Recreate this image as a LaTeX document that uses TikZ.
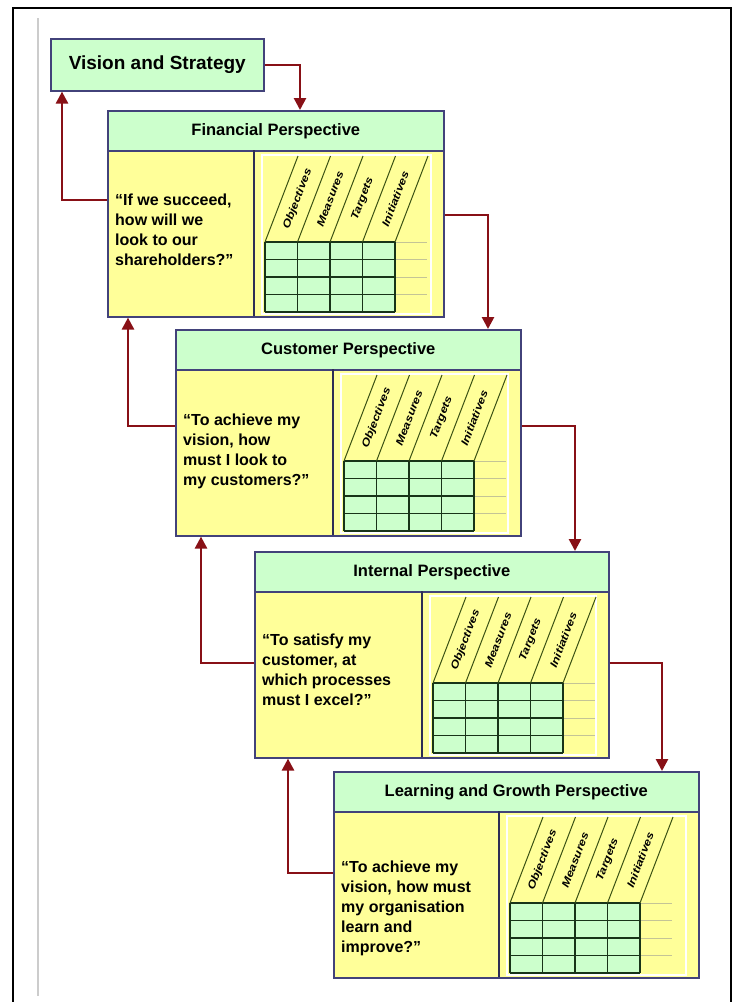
\documentclass[tikz,border=0pt]{standalone}
\usepackage{fontspec}
\setmainfont{Liberation Sans}
\usepackage{graphicx}
\usetikzlibrary{arrows.meta}

\definecolor{hdrgreen}{RGB}{204,255,204}
\definecolor{bodyyellow}{RGB}{255,255,153}
\definecolor{boxline}{RGB}{66,66,122}
\definecolor{gridline}{RGB}{24,52,24}
\definecolor{linkred}{RGB}{136,16,22}
\definecolor{faintline}{RGB}{196,196,150}

\begin{document}
\begin{tikzpicture}[x=1pt,y=-1pt,
    hdr/.style={draw=boxline,line width=1.6pt,fill=hdrgreen,anchor=north west,
      minimum height=40pt,inner sep=0pt,font=\fontsize{16.5}{18}\selectfont\bfseries},
    bodybox/.style={draw=boxline,line width=1.6pt,fill=bodyyellow,anchor=north west,inner sep=0pt},
    quest/.style={anchor=west,align=left,inner sep=0pt,font=\fontsize{16}{20}\selectfont\bfseries},
    colhead/.style={rotate=69,inner sep=0pt,font=\fontsize{10.5}{10.5}\selectfont\bfseries\itshape},
    link/.style={linkred,line width=2.6pt,-{Triangle[width=12pt,length=12pt]}}]

                \useasboundingbox (0,0) rectangle (737,1002);

                % Page frame
                \draw[line width=1.5pt] (13,1002) -- (13,8) -- (731,8) -- (731,1002);
                \draw[black!20,line width=1.2pt] (38,18) -- (38,996);

                % Vision box
                \node[hdr,minimum width=213pt,minimum height=52pt,
                  font=\fontsize{19}{21}\selectfont\bfseries] (vision) at (50,38) {Vision and Strategy};

                % Perspectives
                \foreach \nm/\X/\Y/\W/\Sp/\Q/\ttl/\qtext in {
                  fin/107/110/336/147/120/Financial Perspective/{“If we succeed,\\how will we\\look to our\\shareholders?”},
                  cus/175/329/345/158/122/Customer Perspective/{“To achieve my\\vision, how\\must I look to\\my customers?”},
                  int/254/551/354/168/119/Internal Perspective/{“To satisfy my\\customer, at\\which processes\\must I excel?”},
                  lrn/333/771/365/166/137/Learning and Growth Perspective/{“To achieve my\\vision, how must\\my organisation\\learn and\\improve?”}}
                {
                  \node[bodybox,minimum width=\W pt,minimum height=166pt] (\nm-body) at (\X,\Y+40) {};
                  \node[hdr,minimum width=\W pt] (\nm) at (\X,\Y) {\ttl};
                  \draw[boxline!70!black,line width=1.4pt] (\X+\Sp,\Y+40) -- (\X+\Sp,\Y+206);

                  % table
                  \draw[white,line width=1.5pt] (\X+\Sp+8,\Y+45) rectangle (\X+\W-12,\Y+204);
                  \fill[hdrgreen] (\X+\Sp+11,\Y+132) rectangle ++(130,70);
                  \foreach \r in {0,17.5,35,52.5}
                    \draw[faintline,line width=1pt] (\X+\Sp+141,\Y+132+\r) -- ++(32,0);
                  \foreach \r in {0,17.5,...,70}
                    \draw[gridline,line width=1.6pt] (\X+\Sp+11,\Y+132+\r) -- ++(130,0);
                  \foreach \c in {0,32.5,...,130}
                    \draw[gridline,line width=1.6pt] (\X+\Sp+11+\c,\Y+132) -- ++(0,70);
                  \foreach \c in {0,32.5,...,130}
                    \draw[gridline!85!yellow,line width=1pt] (\X+\Sp+11+\c,\Y+132) -- ++(33,-86);
                  \foreach \lab [count=\k from 0] in {Objectives,Measures,Targets,Initiatives}
                    \node[colhead] (\nm-col\k) at (\X+\Sp+43.75+32.5*\k,\Y+89) {\scalebox{1.2}[1]{\lab}};

                  % question
                  \node[quest] (\nm-q) at (\X+8,\Y+\Q) {\qtext};
                }

                % Rail points
                \coordinate (fin-drop) at (300,0);
                \coordinate (cus-drop) at (488,0);
                \coordinate (int-drop) at (575,0);
                \coordinate (lrn-drop) at (662,0);
                \coordinate (fin-out) at (0,215);
                \coordinate (cus-out) at (0,426);
                \coordinate (int-out) at (0,663);
                \coordinate (fin-back) at (0,200);
                \coordinate (lrn-back) at (0,873);
                \coordinate (vis-rise) at (62,0);
                \coordinate (fin-rise) at (128,0);
                \coordinate (cus-rise) at (201,0);
                \coordinate (int-rise) at (288,0);

                % Links down
                \draw[link] (vision.east) -| (fin.north -| fin-drop);
                \draw[link] (fin-body.east |- fin-out) -| (cus.north -| cus-drop);
                \draw[link] (cus-body.east |- cus-out) -| (int.north -| int-drop);
                \draw[link] (int-body.east |- int-out) -| (lrn.north -| lrn-drop);

                % Links back up
                \draw[link] (fin-body.west |- fin-back) -| (vision.south -| vis-rise);
                \draw[link] (cus-body.west |- cus-out) -| (fin-body.south -| fin-rise);
                \draw[link] (int-body.west |- int-out) -| (cus-body.south -| cus-rise);
                \draw[link] (lrn-body.west |- lrn-back) -| (int-body.south -| int-rise);

\end{tikzpicture}
\end{document}
